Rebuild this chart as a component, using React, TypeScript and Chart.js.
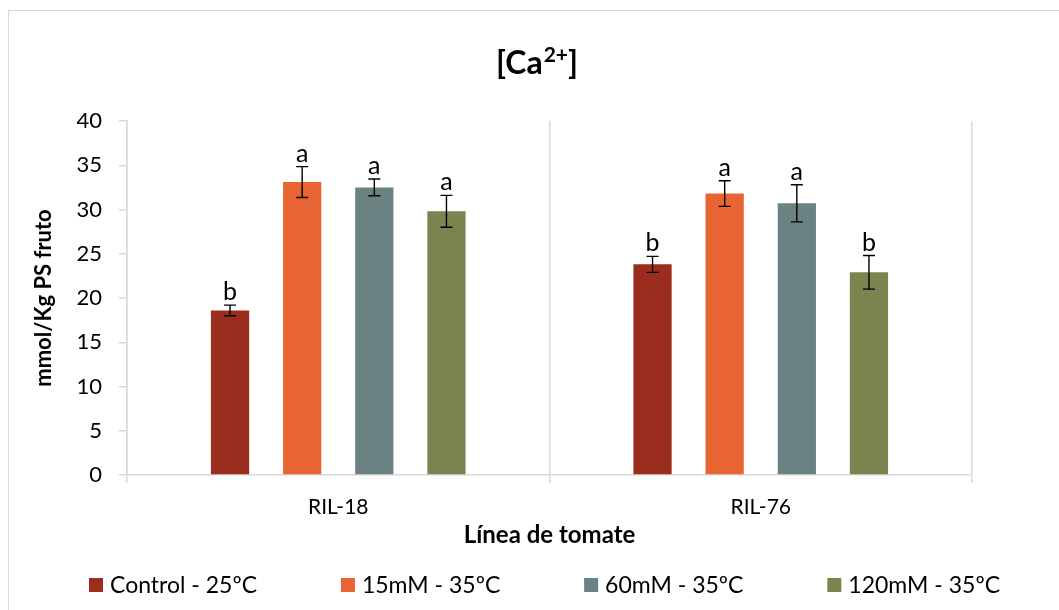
import React, { useEffect, useRef } from "react";
import { Chart, registerables } from "chart.js";

Chart.register(...registerables);

const categories = ["RIL-18", "RIL-76"];
const seriesLabels = ["Control - 25ºC", "15mM - 35ºC", "60mM - 35ºC", "120mM - 35ºC"];
const controlValues = [18.6, 23.8];
const mM15Values = [33.1, 31.8];
const mM60Values = [32.5, 30.7];
const mM120Values = [29.8, 22.9];
const controlErrors = [0.6, 0.9];
const mM15Errors = [1.75, 1.45];
const mM60Errors = [0.95, 2.1];
const mM120Errors = [1.8, 1.9];
const controlLetters = ["b", "b"];
const mM15Letters = ["a", "a"];
const mM60Letters = ["a", "a"];
const mM120Letters = ["a", "b"];
const yTickValues = [0, 5, 10, 15, 20, 25, 30, 35, 40];
const seriesColors = ["#9B2D1F", "#E96433", "#6A8282", "#7B834E"];
const chartTitleMain = "[Ca";
const chartTitleSup = "2+";
const chartTitleEnd = "]";
const yAxisTitle = "mmol/Kg PS fruto";
const xAxisTitle = "Línea de tomate";

const FONT = "Lato, 'Noto Sans', sans-serif";

const allValues = [controlValues, mM15Values, mM60Values, mM120Values];
const allErrors = [controlErrors, mM15Errors, mM60Errors, mM120Errors];
const allLetters = [controlLetters, mM15Letters, mM60Letters, mM120Letters];

const errorBarPlugin = {
  id: "errorBars",
  afterDatasetsDraw(chart: any) {
    const ctx = chart.ctx;
    const y = chart.scales.y;
    ctx.save();
    chart.data.datasets.forEach((ds: any, i: number) => {
      const meta = chart.getDatasetMeta(i);
      meta.data.forEach((el: any, j: number) => {
        const v = allValues[i][j];
        const e = allErrors[i][j];
        const top = y.getPixelForValue(v + e);
        const bot = y.getPixelForValue(v - e);
        const x = el.x;
        ctx.strokeStyle = "#000";
        ctx.lineWidth = 1.4;
        ctx.beginPath();
        ctx.moveTo(x, top);
        ctx.lineTo(x, bot);
        ctx.moveTo(x - 6, top);
        ctx.lineTo(x + 6, top);
        ctx.moveTo(x - 6, bot);
        ctx.lineTo(x + 6, bot);
        ctx.stroke();
        ctx.fillStyle = "#000";
        ctx.font = `25px ${FONT}`;
        ctx.textAlign = "center";
        ctx.textBaseline = "alphabetic";
        ctx.fillText(allLetters[i][j], x, top - 5);
      });
    });
    ctx.restore();
  },
};

const titlePlugin = {
  id: "supTitle",
  afterDraw(chart: any) {
    const ctx = chart.ctx;
    ctx.save();
    ctx.fillStyle = "#000";
    ctx.textBaseline = "alphabetic";
    ctx.textAlign = "left";
    const mainFont = `bold 32px ${FONT}`;
    const supFont = `bold 21px ${FONT}`;
    ctx.font = mainFont;
    const w1 = ctx.measureText(chartTitleMain).width;
    const w3 = ctx.measureText(chartTitleEnd).width;
    ctx.font = supFont;
    const w2 = ctx.measureText(chartTitleSup).width;
    const total = w1 + w2 + w3 + 1;
    let x = chart.width / 2 + 3 - total / 2;
    const base = 63;
    ctx.font = mainFont;
    ctx.fillText(chartTitleMain, x, base);
    x += w1 + 1;
    ctx.font = supFont;
    ctx.fillText(chartTitleSup, x, base - 12);
    x += w2;
    ctx.font = mainFont;
    ctx.fillText(chartTitleEnd, x, base);
    ctx.restore();
  },
};

const legendPlugin = {
  id: "bottomLegend",
  afterDraw(chart: any) {
    const ctx = chart.ctx;
    ctx.save();
    ctx.font = `23px ${FONT}`;
    const box = 14;
    const gapText = 7;
    const widths = chart.data.datasets.map(
      (ds: any) => box + gapText + ctx.measureText(ds.label).width
    );
    const startX = 80;
    const endX = 991;
    const sum = widths.reduce((a: number, b: number) => a + b, 0);
    const gap = (endX - startX - sum) / (widths.length - 1);
    let x = startX;
    const cy = 574;
    chart.data.datasets.forEach((ds: any, i: number) => {
      ctx.fillStyle = ds.backgroundColor;
      ctx.fillRect(x, cy - box / 2, box, box);
      ctx.fillStyle = "#000";
      ctx.textAlign = "left";
      ctx.textBaseline = "middle";
      ctx.fillText(ds.label, x + box + gapText, cy + 1);
      x += widths[i] + gap;
    });
    ctx.restore();
  },
};

export default function App() {
  const canvasRef = useRef<HTMLCanvasElement | null>(null);

  useEffect(() => {
    if (!canvasRef.current) return;
    Chart.defaults.font.family = FONT;
    const chart = new Chart(canvasRef.current, {
      type: "bar",
      data: {
        labels: categories,
        datasets: seriesLabels.map((label, i) => ({
          label,
          data: allValues[i],
          backgroundColor: seriesColors[i],
          borderWidth: 0,
          categoryPercentage: 0.683,
          barPercentage: 0.53,
        })),
      },
      options: {
        responsive: false,
        animation: false,
        devicePixelRatio: 1,
        layout: { padding: { top: 110, right: 87, left: 0, bottom: 0 } },
        plugins: {
          legend: { display: false },
          title: { display: false },
          tooltip: { enabled: false },
        },
        scales: {
          x: {
            grid: {
              offset: true,
              color: "#d9d9d9",
              drawOnChartArea: true,
              tickLength: 8,
              lineWidth: 1.5,
            },
            border: { color: "#d9d9d9", width: 1.5 },
            ticks: { font: { size: 21, family: FONT }, color: "#000", padding: 12 },
            title: {
              display: true,
              text: xAxisTitle,
              color: "#000",
              font: { size: 24, weight: "bold", family: FONT },
              padding: { top: 0, bottom: 60 },
            },
            afterFit: (s: any) => {
              s.height = 135;
            },
          },
          y: {
            min: 0,
            max: 40,
            afterBuildTicks: (s: any) => {
              s.ticks = yTickValues.map((v) => ({ value: v }));
            },
            grid: {
              drawOnChartArea: false,
              color: "#d9d9d9",
              tickLength: 8,
              lineWidth: 1.5,
            },
            border: { color: "#d9d9d9", width: 1.5 },
            ticks: { font: { size: 22, family: FONT }, color: "#000", padding: 17 },
            title: {
              display: true,
              text: yAxisTitle,
              color: "#000",
              font: { size: 22, weight: "bold", family: FONT },
              padding: { top: 22, bottom: 0 },
            },
            afterFit: (s: any) => {
              s.width = 118;
            },
          },
        },
      },
      plugins: [errorBarPlugin, titlePlugin, legendPlugin],
    });
    return () => chart.destroy();
  }, []);

  return (
    <div
      style={{
        position: "fixed",
        left: 8,
        top: 10,
        width: 1051,
        height: 600,
        borderLeft: "1px solid #d9d9d9",
        borderTop: "1px solid #d9d9d9",
        boxSizing: "border-box",
        background: "#fff",
      }}
    >
      <canvas ref={canvasRef} width={1050} height={599} style={{ display: "block" }} />
    </div>
  );
}
